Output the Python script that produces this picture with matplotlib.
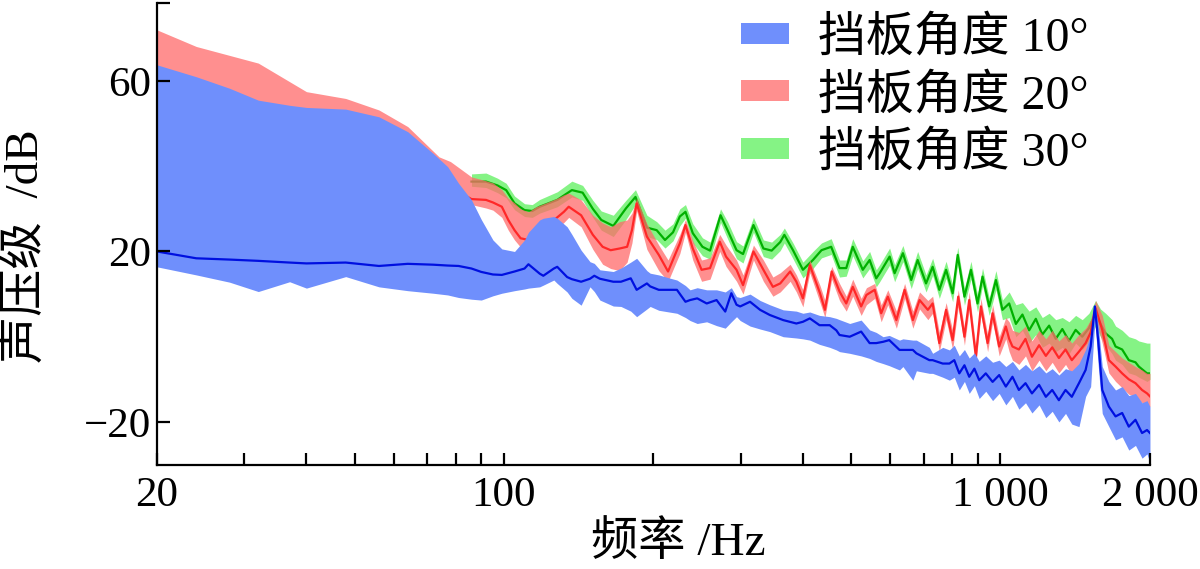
import matplotlib
matplotlib.use("Agg")
import matplotlib.pyplot as plt
from matplotlib.ticker import FixedLocator, FixedFormatter, NullFormatter

plt.rcParams['font.family'] = ['Liberation Serif', 'Noto Sans CJK SC']
plt.rcParams['axes.unicode_minus'] = True

# 挡板角度 10°
f10 = [20, 24, 28, 32, 37, 40, 48, 56, 64, 72, 77, 81, 86, 90, 95, 99, 105, 110, 112, 118,
       120, 126, 128, 134, 137, 143, 149, 152, 156, 166, 172, 180, 185, 194, 197, 205, 215, 223,
       232, 237, 245, 256, 268, 279, 287, 294, 299, 313, 328, 343, 365, 388, 400, 413, 432,
       453, 467, 474, 497, 524, 545, 562, 580, 597, 626, 636, 666, 677, 719, 730, 765, 789,
       807, 826, 846, 865, 886, 906, 934, 964, 994, 1025, 1057, 1089, 1123, 1157, 1196, 1234,
       1271, 1311, 1352, 1392, 1439, 1484, 1519, 1549, 1574, 1603, 1653, 1705, 1758, 1813,
       1870, 1928, 1973, 2000]
m10 = [20.0, 18.4, 18.1, 17.8, 17.4, 17.2, 17.4, 16.6, 17.1, 16.9, 16.7, 16.6, 16.0, 15.2, 14.6,
       14.5, 15.3, 16.0, 17.0, 14.8, 14.3, 16.0, 16.4, 14.0, 13.5, 12.9, 13.6, 14.3, 13.6, 12.9,
       12.9, 13.7, 11.0, 12.5, 11.8, 11.0, 11.0, 11.0, 8.2, 8.6, 9.0, 7.8, 8.6, 5.9, 10.2, 7.5,
       7.1, 8.2, 6.3, 5.1, 3.9, 3.1, 3.5, 4.3, 2.7, 2.7, 1.5, 0.4, 0.0, 1.2, -1.5, -1.5, -1.2,
       -0.8, -3.1, -3.1, -3.1, -3.9, -5.5, -5.5, -6.3, -6.3, -5.5, -8.6, -6.7, -9.4, -7.5,
       -10.2, -8.6, -10.6, -9.0, -11.7, -9.4, -12.5, -10.9, -13.3, -11.3, -14.1, -12.5, -14.9,
       -12.5, -14.1, -10.9, -7.8, -2.3, 7.1, -1.2, -12.5, -16.4, -18.7, -17.9, -21.1, -19.5,
       -22.6, -21.9, -22.6]
lo10 = [16.4, 14.5, 12.8, 10.6, 12.9, 11.4, 14.1, 11.7, 10.8, 10.2, 9.8, 9.2, 8.8, 8.6, 9.6,
        10.2, 10.8, 11.2, 11.4, 11.7, 12.1, 13.3, 12.5, 10.5, 9.0, 7.4, 11.7, 10.6, 8.6, 7.2,
        7.1, 6.0, 4.7, 6.5, 7.1, 6.2, 5.8, 5.5, 4.5, 3.8, 3.1, 3.5, 2.6, 2.0, 3.5, 4.7, 3.8,
        2.5, 1.8, 1.2, 0.0, -0.3, -0.5, -0.8, -1.8, -2.5, -3.1, -3.5, -3.9, -4.5, -5.1, -5.8,
        -6.3, -6.8, -7.8, -7.0, -10.2, -8.0, -8.6, -8.6, -9.5, -10.2, -9.5, -12.5, -10.5,
        -13.3, -11.5, -14.5, -12.8, -15.0, -13.3, -16.0, -14.0, -17.0, -15.5, -17.9, -16.0,
        -19.0, -17.5, -20.0, -18.0, -20.5, -21.1, -14.0, -11.7, 3.9, -7.0, -18.0, -21.1,
        -24.2, -23.5, -26.6, -25.5, -28.5, -27.5, -29.6]
hi10 = [63.8, 61.0, 58.3, 55.5, 54.3, 53.8, 53.4, 51.6, 48.1, 43.0, 39.9, 36.0, 32.1, 27.5,
        22.7, 20.6, 20.0, 22.7, 24.5, 27.4, 27.8, 28.2, 27.8, 25.8, 24.0, 20.3, 17.6, 17.2,
        15.7, 15.3, 16.1, 17.5, 18.4, 15.5, 14.9, 14.5, 13.8, 13.3, 12.0, 11.0, 11.5, 11.0,
        11.0, 10.5, 11.5, 9.4, 9.2, 10.0, 8.5, 7.5, 6.3, 6.0, 5.5, 5.8, 5.0, 4.7, 4.3, 4.0,
        3.1, 3.9, 1.6, 1.0, 0.0, 0.3, -0.8, -0.5, -0.8, -0.8, -2.5, -3.9, -2.5, -3.1, -2.0,
        -4.5, -3.0, -5.0, -3.8, -5.8, -4.5, -6.0, -5.5, -7.0, -5.8, -7.8, -6.5, -8.0, -6.8,
        -8.5, -7.5, -9.0, -7.5, -8.0, -6.3, -3.0, 0.5, 7.8, 2.4, -7.0, -10.5, -12.5, -11.7,
        -13.8, -13.3, -15.5, -15.0, -16.4]

# 挡板角度 20°
f20 = [20, 24, 32, 40, 48, 56, 64, 74, 78, 86, 92, 95, 99, 102, 105, 108, 112, 116, 122, 128,
       132, 135, 143, 151, 158, 164, 171, 177, 181, 185, 194, 205, 214, 226, 232, 240, 250,
       260, 272, 280, 294, 303, 318, 333, 348, 360, 377, 388, 400, 413, 433, 443, 457, 474,
       489, 504, 524, 537, 558, 575, 593, 617, 641, 666, 687, 714, 730, 753, 777, 801, 822,
       846, 865, 892, 913, 942, 964, 994, 1025, 1041, 1057, 1089, 1123, 1157, 1196, 1234,
       1271, 1311, 1352, 1392, 1439, 1484, 1519, 1554, 1603, 1653, 1705, 1758, 1813, 1870,
       1928, 1973, 2000]
m20 = [45.0, 44.0, 43.0, 42.0, 41.0, 40.0, 38.0, 36.0, 35.0, 32.3, 32.1, 31.5, 30.5, 27.4,
       25.0, 23.1, 22.7, 23.5, 26.0, 28.0, 29.3, 30.5, 28.5, 23.9, 21.1, 20.3, 20.7, 21.1,
       25.0, 31.3, 23.5, 19.2, 15.3, 21.9, 26.2, 20.7, 15.7, 16.1, 22.3, 18.8, 15.7, 12.1,
       20.0, 15.7, 11.7, 12.5, 15.3, 12.9, 9.0, 16.8, 10.2, 6.3, 15.3, 10.6, 7.8, 11.7, 7.1,
       9.8, 11.0, 5.5, 9.4, 3.9, 11.0, 3.9, 8.6, 6.3, 7.8, -1.5, 6.3, -0.8, 9.4, 0.0, 8.6,
       -4.7, 7.1, -1.5, 5.5, -2.3, 2.4, -0.5, -2.3, -3.0, -0.5, -4.7, -2.0, -4.5, -2.5, -5.0,
       -3.0, -5.5, -3.5, -1.5, 1.0, 6.7, 1.6, -5.5, -7.0, -8.6, -10.0, -10.9, -12.5, -13.3,
       -14.0]
lo20 = [35.0, 34.0, 33.0, 32.0, 31.0, 30.0, 30.0, 30.5, 31.0, 31.0, 30.2, 29.7, 28.0, 25.0,
        22.7, 21.0, 20.5, 21.0, 23.5, 25.5, 26.8, 28.0, 25.8, 20.5, 17.0, 16.0, 15.5, 17.5,
        22.0, 29.5, 20.5, 15.5, 13.0, 19.5, 24.5, 18.0, 13.0, 13.5, 20.0, 16.5, 13.0, 10.0,
        18.0, 13.0, 9.5, 10.5, 13.0, 10.5, 7.0, 15.0, 8.0, 4.5, 13.5, 8.5, 6.0, 9.5, 5.0, 7.5,
        9.0, 3.5, 7.5, 2.0, 9.0, 2.0, 6.5, 4.0, 5.5, -3.5, 4.0, -3.0, 7.0, -2.0, 6.5, -6.5,
        5.0, -3.5, 3.5, -4.5, -0.5, -3.5, -5.5, -6.5, -4.5, -8.0, -5.5, -8.0, -6.0, -8.5,
        -6.5, -9.0, -7.0, -5.0, -2.5, 4.5, -1.5, -8.5, -10.5, -12.0, -13.5, -14.0, -15.5,
        -16.0, -16.4]
hi20 = [72.0, 68.1, 64.2, 57.5, 55.9, 53.2, 49.3, 42.2, 41.1, 37.5, 36.6, 36.1, 34.5, 32.5,
        31.4, 30.0, 29.3, 30.5, 31.5, 32.5, 33.3, 33.7, 32.1, 28.5, 26.7, 25.8, 27.0, 27.4,
        29.0, 32.5, 26.5, 21.5, 18.0, 24.0, 27.5, 22.5, 18.0, 18.5, 24.0, 21.5, 18.0, 14.5,
        21.5, 18.0, 14.0, 15.0, 17.0, 14.5, 11.0, 18.0, 12.0, 8.5, 16.5, 12.5, 9.5, 13.5, 9.0,
        11.5, 12.5, 7.5, 11.0, 6.0, 12.5, 6.0, 10.5, 8.5, 9.5, 1.0, 8.0, 1.5, 11.0, 2.0, 10.5,
        -2.5, 9.0, 0.5, 7.5, 0.0, 4.5, 3.5, 1.5, 1.0, 2.5, -1.0, 1.5, -0.5, 1.5, -1.0, 0.5,
        -1.5, 0.5, 2.0, 4.0, 8.5, 5.0, -2.0, -3.5, -5.0, -6.0, -7.0, -7.8, -8.6, -8.6]

# 挡板角度 30°
f30 = [86, 92, 97, 101, 105, 110, 114, 118, 128, 137, 144, 151, 157, 166, 176, 184, 194, 203,
       211, 219, 226, 232, 240, 251, 260, 273, 282, 294, 303, 318, 333, 346, 360, 367, 382,
       400, 419, 436, 456, 474, 489, 504, 528, 545, 562, 571, 598, 612, 636, 661, 681, 708,
       730, 753, 777, 801, 820, 846, 872, 899, 920, 949, 979, 1009, 1041, 1074, 1107, 1142,
       1178, 1214, 1253, 1292, 1332, 1374, 1417, 1461, 1507, 1554, 1590, 1628, 1678, 1705,
       1758, 1813, 1870, 1899, 1973, 2000]
m30 = [36.4, 36.4, 35.5, 34.4, 31.3, 29.7, 29.5, 30.5, 32.1, 34.4, 33.8, 30.0, 27.4, 26.0,
       30.1, 32.8, 25.6, 25.0, 22.7, 24.5, 28.2, 29.3, 24.3, 21.1, 20.2, 28.5, 25.0, 20.3,
       19.4, 26.2, 20.7, 20.2, 22.2, 23.9, 20.3, 15.7, 18.0, 20.3, 21.1, 16.1, 16.1, 21.1,
       15.7, 18.0, 13.7, 14.9, 18.8, 14.9, 19.6, 13.3, 18.0, 12.5, 16.4, 11.0, 15.7, 10.2,
       19.2, 9.4, 15.7, 7.8, 14.1, 7.1, 13.3, 6.3, 7.8, 3.0, 5.2, 1.5, 4.2, 0.5, 2.6, -0.5,
       1.8, -1.0, 1.6, 0.0, 2.0, 5.5, 3.0, 0.8, -0.5, -2.3, -3.0, -5.5, -6.0, -7.0, -8.6, -8.6]
lo30 = [35.3, 35.0, 33.8, 32.6, 29.8, 28.2, 28.0, 29.0, 30.5, 32.8, 32.0, 28.0, 25.0, 23.5,
        27.5, 31.0, 23.5, 22.8, 20.8, 22.5, 26.0, 27.8, 22.0, 19.0, 18.2, 26.8, 23.0, 18.3,
        17.3, 24.5, 18.8, 18.2, 20.2, 22.0, 18.3, 13.8, 16.0, 18.5, 19.3, 14.0, 14.2, 19.0,
        13.8, 16.0, 11.7, 12.9, 16.8, 12.9, 17.6, 11.3, 16.0, 10.5, 14.4, 9.0, 13.7, 8.2,
        17.0, 7.4, 13.5, 5.8, 12.0, 5.0, 11.0, 4.0, 4.5, 0.0, 1.5, -1.5, 0.5, -2.5, -1.5,
        -3.5, -2.5, -4.0, -1.5, -3.0, -1.0, 2.5, 0.0, -2.0, -4.0, -5.5, -6.5, -8.5, -9.0,
        -9.5, -10.5, -10.0]
hi30 = [38.2, 38.4, 37.2, 36.0, 33.0, 31.2, 31.0, 32.2, 34.0, 36.5, 35.5, 32.0, 29.5, 28.5,
        32.0, 34.5, 28.5, 27.0, 25.0, 26.5, 30.0, 31.0, 26.5, 23.2, 22.2, 30.0, 27.0, 22.3,
        21.3, 28.0, 22.7, 22.2, 24.0, 25.5, 22.0, 17.5, 20.0, 22.0, 23.0, 18.0, 18.0, 23.0,
        17.8, 20.0, 15.7, 16.9, 20.8, 16.9, 21.4, 15.3, 20.0, 14.5, 18.4, 13.0, 17.7, 12.2,
        21.0, 11.4, 17.7, 9.8, 16.1, 9.1, 15.5, 8.6, 10.5, 7.5, 8.0, 6.0, 7.0, 4.5, 5.5, 4.0,
        4.5, 3.5, 5.0, 4.0, 5.5, 8.5, 6.5, 5.5, 4.0, 2.5, 1.5, 0.0, -0.5, -1.0, -1.5, -1.5]

labels = ['挡板角度 10°', '挡板角度 20°', '挡板角度 30°']
xticks = [20, 100, 1000, 2000]
xticklabels = ['20', '100', '1 000', '2 000']
xminor = [30, 40, 50, 60, 70, 80, 90, 200, 300, 400, 500, 600, 700, 800, 900]
yticks = [-20, 20, 60]

fig = plt.figure(figsize=(12, 5.69), dpi=100)
ax = fig.add_axes([0.1308, 0.1828, 0.8275, 0.8119])

# green at the bottom, blue band on top of everything
ax.fill_between(f30, lo30, hi30, color='#5cf05c', alpha=0.75, lw=0, label=labels[2], zorder=1.0)
ax.plot(f30, m30, color='#00b000', lw=1.6, zorder=1.1)
ax.fill_between(f20, lo20, hi20, color='#ff6a6a', alpha=0.75, lw=0, label=labels[1], zorder=1.2)
ax.plot(f20, m20, color='#ff2828', lw=1.6, zorder=1.3)
ax.fill_between(f10, lo10, hi10, color='#6f8ffc', lw=0, label=labels[0], zorder=1.4)
ax.plot(f10, m10, color='#0010e0', lw=1.6, zorder=1.5)

ax.set_xscale('log')
ax.set_xlim(20, 2000)
ax.set_ylim(-30.1, 78.3)
ax.xaxis.set_major_locator(FixedLocator(xticks))
ax.xaxis.set_major_formatter(FixedFormatter(xticklabels))
ax.xaxis.set_minor_locator(FixedLocator(xminor))
ax.xaxis.set_minor_formatter(NullFormatter())
ax.set_yticks(yticks)
ax.yaxis.set_minor_locator(FixedLocator([78.3]))

for s in ['top', 'right']:
    ax.spines[s].set_visible(False)
for s in ['left', 'bottom']:
    ax.spines[s].set_linewidth(1.6)
ax.tick_params(which='both', direction='in', length=9, width=1.6, labelsize=31)
ax.tick_params(axis='x', pad=8)
ax.tick_params(axis='y', pad=4)

fig.text(0.021, 0.568, '声压级  /dB', rotation=90, fontsize=34, ha='center', va='center')
fig.text(0.565, 0.046, '频率 /Hz', fontsize=34, ha='center', va='center')

h, l = ax.get_legend_handles_labels()
ax.legend(h[::-1], l[::-1], loc='upper right', bbox_to_anchor=(0.962, 1.024), frameon=False,
          fontsize=34.5, handlelength=1.0, handleheight=0.3, handletextpad=0.6,
          labelspacing=0.26, borderaxespad=0.1)

fig.savefig('out.png', dpi=100)
